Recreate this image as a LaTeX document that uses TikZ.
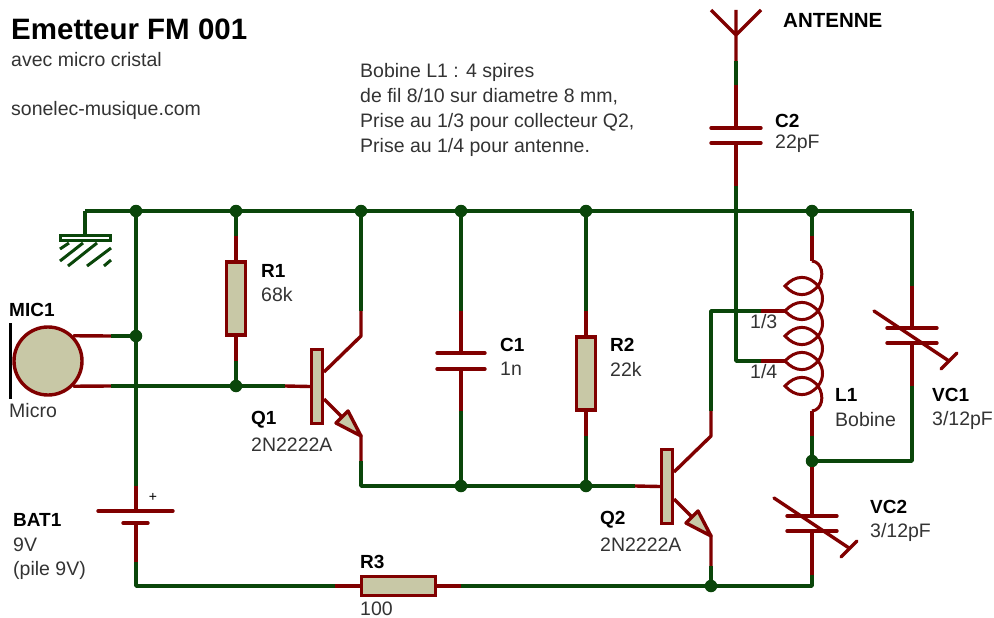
\documentclass[tikz,border=0pt]{standalone}
\usepackage{fontspec}
\setmainfont{Liberation Sans}
\definecolor{wiregreen}{HTML}{0A460A}
\definecolor{leadred}{HTML}{800000}
\definecolor{bodytan}{HTML}{C8C8A6}
\definecolor{valgray}{HTML}{333333}
\tikzset{
	wire/.style={draw=wiregreen, line width=3.4pt, line join=round},
	lead/.style={draw=leadred, line width=3.4pt, line join=round},
	junc/.style={circle, fill=wiregreen, inner sep=0pt, minimum size=12.5pt},
	body/.style={rectangle, draw=leadred, fill=bodytan, line width=3.4pt, inner sep=0pt},
	titre/.style={anchor=west, inner sep=0pt, font=\fontsize{29.5}{30}\selectfont\bfseries},
	lab/.style={anchor=west, inner sep=0pt, font=\fontsize{19}{19}\selectfont\bfseries},
	val/.style={anchor=west, inner sep=0pt, text=valgray, font=\fontsize{19.5}{20}\selectfont},
}
\begin{document}
\begin{tikzpicture}[x=1pt, y=-1pt]
	\useasboundingbox (0,0) rectangle (994,618);

	\node at (136,211)(j1)[junc]{};
	\node at (236,211)(j2)[junc]{};
	\node at (361,211)(j3)[junc]{};
	\node at (461,211)(j4)[junc]{};
	\node at (586,211)(j5)[junc]{};
	\node at (812,211)(j6)[junc]{};
	\node at (136,336)(j7)[junc]{};
	\node at (236,386)(j8)[junc]{};
	\node at (461,486)(j9)[junc]{};
	\node at (586,486)(j10)[junc]{};
	\node at (812,461)(j11)[junc]{};
	\node at (711,586)(j12)[junc]{};

	\node at (236,298.5)(R1)[body, minimum width=19pt, minimum height=73pt]{};
	\node at (586,373.5)(R2)[body, minimum width=19pt, minimum height=73pt]{};
	\node at (398.5,586)(R3)[body, minimum width=74pt, minimum height=19pt]{};
	\node at (317,386.5)(Q1)[body, minimum width=11pt, minimum height=74pt]{};
	\node at (667,486.5)(Q2)[body, minimum width=11pt, minimum height=74pt]{};
	\node at (48,361)(MIC1)[circle, draw=leadred, fill=bodytan, line width=3.4pt, inner sep=0pt, minimum size=68pt]{};

	% fils du haut
	\coordinate (gnd) at (85,211);
	\coordinate (gndplate) at (85,236);
	\coordinate (railr) at (912,211);
	\path[wire] (gnd) edge (j1) (j1) edge (j2) (j2) edge (j3) (j3) edge (j4) (j4) edge (j5) (j5) edge (j6) (j6) edge (railr);
	\draw[wire] (gnd)--(gndplate);
	\path[wire] (j1) edge (j7);

	% masse
	\draw[draw=wiregreen, line width=2.8pt] (60.5,235.5) rectangle (110.5,240.5);
	\draw[draw=wiregreen, line width=3pt]
		(69,243)--(60,249)
		(83,243)--(60,261)
		(97,243)--(68,266)
		(111,248)--(87,266)
		(111,260)--(104,266);

	% micro
	\draw[line width=3.4pt, black] (10.5,323)--(10.5,399);
	\coordinate (mica) at (111,336);
	\coordinate (micb) at (111,386);
	\path[lead] (MIC1.45) edge (mica) (MIC1.-45) edge (micb);
	\path[wire] (mica) edge (j7) (micb) edge (j8);

	% pile
	\coordinate (bat1) at (136,486);
	\coordinate (bat2) at (136,511);
	\coordinate (bat3) at (136,523);
	\coordinate (bat4) at (136,562);
	\coordinate (botl) at (136,586);
	\path[wire] (j7) edge (bat1);
	\path[lead] (bat1) edge (bat2) (bat3) edge (bat4);
	\draw[wire] (bat4)--(botl)--(335,586);
	\draw[lead, line cap=round] (98,511)--(173,511);
	\draw[lead, line cap=round] (123,523)--(148,523);
	\coordinate (r3l) at (335,586);
	\coordinate (r3r) at (461,586);
	\coordinate (botr) at (812,586);
	\path[lead] (r3l) edge (R3.west) (R3.east) edge (r3r);
	\path[wire] (r3r) edge (j12);

	% R1
	\coordinate (r1a) at (236,236);
	\coordinate (r1b) at (236,361);
	\path[wire] (j2) edge (r1a) (r1b) edge (j8);
	\path[lead] (r1a) edge (R1.north) (R1.south) edge (r1b);

	% Q1
	\coordinate (q1b) at (285,386);
	\coordinate (q1c) at (361,336);
	\coordinate (q1d) at (361,311);
	\coordinate (q1e) at (361,436);
	\coordinate (q1f) at (361,461);
	\coordinate (q1g) at (361,486);
	\path[wire] (j8) edge (q1b) (j3) edge (q1d);
	\path[lead] (q1b) edge (Q1.west);
	\draw[lead] (q1d)--(q1c)--(324,372);
	\draw[lead] (324,399)--(q1e)--(q1f);
	\draw[lead, fill=bodytan] (q1e)--(348,411)--(336,423)--cycle;
	\draw[wire] (q1f)--(q1g)--(j9);

	% C1
	\coordinate (c1a) at (461,311);
	\coordinate (c1b) at (461,353);
	\coordinate (c1c) at (461,369);
	\coordinate (c1d) at (461,411);
	\path[wire] (j4) edge (c1a) (c1d) edge (j9);
	\path[lead] (c1a) edge (c1b) (c1c) edge (c1d);
	\draw[lead, line cap=round] (437,353)--(485,353);
	\draw[lead, line cap=round] (437,369)--(485,369);

	% R2
	\coordinate (r2a) at (586,311);
	\coordinate (r2b) at (586,436);
	\path[wire] (j5) edge (r2a) (r2b) edge (j10);
	\path[lead] (r2a) edge (R2.north) (R2.south) edge (r2b);
	\path[wire] (j9) edge (j10);

	% Q2
	\coordinate (q2b) at (635,486);
	\coordinate (q2c) at (711,436);
	\coordinate (q2d) at (711,411);
	\coordinate (q2e) at (711,536);
	\coordinate (q2f) at (711,566);
	\coordinate (q2g) at (711,311);
	\coordinate (tapa) at (761,311);
	\coordinate (tapb) at (786,311);
	\path[wire] (j10) edge (q2b);
	\path[lead] (q2b) edge (Q2.west);
	\draw[lead] (q2d)--(q2c)--(674,472);
	\draw[lead] (674,499)--(q2e)--(q2f);
	\draw[lead, fill=bodytan] (q2e)--(698,511)--(686,523)--cycle;
	\path[wire] (q2f) edge (j12);
	\draw[wire] (q2d)--(q2g)--(tapa);
	\path[lead] (tapa) edge (tapb);

	% antenne, C2
	\coordinate (ant) at (736,35);
	\coordinate (anta) at (736,10);
	\coordinate (antb) at (711,10);
	\coordinate (antc) at (761,10);
	\coordinate (c2a) at (736,61);
	\coordinate (c2b) at (736,85);
	\coordinate (c2c) at (736,128);
	\coordinate (c2d) at (736,143);
	\coordinate (c2e) at (736,186);
	\coordinate (tapc) at (736,361);
	\coordinate (tapd) at (761,361);
	\coordinate (tape) at (786,361);
	\draw[lead] (antb)--(ant)--(antc) (anta)--(ant)--(c2a);
	\path[wire] (c2a) edge (c2b);
	\path[lead] (c2b) edge (c2c) (c2d) edge (c2e);
	\draw[lead, line cap=round] (711,128)--(761,128);
	\draw[lead, line cap=round] (711,143)--(761,143);
	\draw[wire] (c2e)--(tapc)--(tapd);
	\path[lead] (tapd) edge (tape);

	% L1
	\coordinate (l1a) at (812,236);
	\coordinate (l1b) at (812,261);
	\coordinate (l1c) at (812,411);
	\coordinate (l1d) at (812,436);
	\path[wire] (j6) edge (l1a) (l1d) edge (j11);
	\path[lead] (l1a) edge (l1b) (l1c) edge (l1d);
	\draw[draw=leadred, line width=3pt]
		(l1b) .. controls (822,262) and (825,276) .. (818,286)
		.. controls (824,293) and (824,304) .. (818,311)
		.. controls (824,318) and (824,329) .. (818,336)
		.. controls (824,343) and (824,354) .. (818,361)
		.. controls (824,368) and (824,379) .. (818,386)
		.. controls (825,396) and (822,410) .. (l1c);
	\draw[draw=leadred, line width=3pt]
		(818,286) .. controls (808,274) and (795,275) .. (785,286) .. controls (795,297) and (808,298) .. (818,286)
		(818,311) .. controls (808,299) and (795,300) .. (785,311) .. controls (795,322) and (808,323) .. (818,311)
		(818,336) .. controls (808,324) and (795,325) .. (785,336) .. controls (795,347) and (808,348) .. (818,336)
		(818,361) .. controls (808,349) and (795,350) .. (785,361) .. controls (795,372) and (808,373) .. (818,361)
		(818,386) .. controls (808,374) and (795,375) .. (785,386) .. controls (795,397) and (808,398) .. (818,386);

	% VC1
	\coordinate (vc1a) at (912,286);
	\coordinate (vc1b) at (912,328);
	\coordinate (vc1c) at (912,343);
	\coordinate (vc1d) at (912,386);
	\coordinate (vc1e) at (912,461);
	\path[wire] (railr) edge (vc1a);
	\path[lead] (vc1a) edge (vc1b) (vc1c) edge (vc1d);
	\draw[wire] (vc1d)--(vc1e)--(j11);
	\draw[lead, line cap=round] (887,328)--(937,328);
	\draw[lead, line cap=round] (887,343)--(937,343);
	\draw[lead, line cap=round] (874,311)--(949,361);
	\draw[lead, line cap=round] (941,369)--(957,353);

	% VC2
	\coordinate (vc2b) at (812,516);
	\coordinate (vc2c) at (812,531);
	\coordinate (vc2d) at (812,575);
	\path[lead] (j11) edge (vc2b) (vc2c) edge (vc2d);
	\draw[wire] (j12)--(botr)--(vc2d);
	\draw[lead, line cap=round] (787,516)--(837,516);
	\draw[lead, line cap=round] (787,531)--(837,531);
	\draw[lead, line cap=round] (774,498)--(849,548);
	\draw[lead, line cap=round] (841,557)--(857,541);

	% textes
	\node at (11,29)(t1)[titre]{Emetteur FM 001};
	\node at (11,60)(t2)[val]{avec micro cristal};
	\node at (11,110)(t3)[val]{sonelec-musique.com};
	\node at (360,72)(t4)[val]{Bobine L1 : 4 spires};
	\node at (360,97)(t5)[val]{de fil 8/10 sur diametre 8 mm,};
	\node at (360,122)(t6)[val]{Prise au 1/3 pour collecteur Q2,};
	\node at (360,147)(t7)[val]{Prise au 1/4 pour antenne.};
	\node at (783,20)(t8)[lab, font=\fontsize{20.5}{21}\selectfont\bfseries]{ANTENNE};
	\node at (775,121)(t9)[lab]{C2};
	\node at (775,144)(t10)[val]{22pF};
	\node at (261,271)(t11)[lab]{R1};
	\node at (261,295)(t12)[val]{68k};
	\node at (9,310)(t13)[lab]{MIC1};
	\node at (9,411)(t14)[val]{Micro};
	\node at (251,420)(t15)[lab]{Q1};
	\node at (251,445)(t16)[val]{2N2222A};
	\node at (500,345)(t17)[lab]{C1};
	\node at (500,369)(t18)[val]{1n};
	\node at (610,345)(t19)[lab]{R2};
	\node at (610,369)(t20)[val]{22k};
	\node at (750,322)(t21)[val]{1/3};
	\node at (750,372)(t22)[val]{1/4};
	\node at (835,395)(t23)[lab]{L1};
	\node at (835,420)(t24)[val]{Bobine};
	\node at (932,395)(t25)[lab]{VC1};
	\node at (932,420)(t26)[val]{3/12pF};
	\node at (600,520)(t27)[lab]{Q2};
	\node at (600,545)(t28)[val]{2N2222A};
	\node at (870,507)(t29)[lab]{VC2};
	\node at (870,532)(t30)[val]{3/12pF};
	\node at (13,520)(t31)[lab]{BAT1};
	\node at (13,545)(t32)[val]{9V};
	\node at (13,570)(t33)[val]{(pile 9V)};
	\node at (360,562)(t34)[lab]{R3};
	\node at (360,609)(t35)[val]{100};
	\node at (153,497)(t36)[anchor=center, inner sep=0pt, font=\fontsize{14}{14}\selectfont]{+};
\end{tikzpicture}
\end{document}
